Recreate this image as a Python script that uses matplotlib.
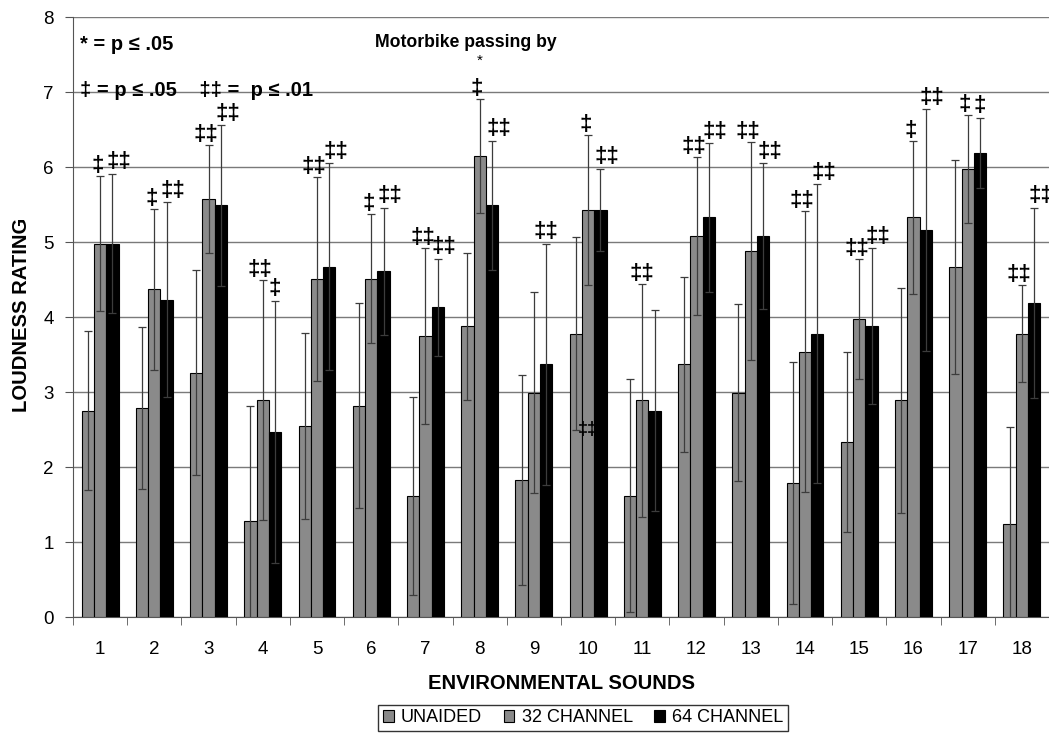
import matplotlib
matplotlib.use("Agg")
import matplotlib.pyplot as plt
import numpy as np

plt.rcParams["font.family"] = ["Liberation Sans", "DejaVu Sans"]

sounds = [str(i) for i in range(1, 19)]
unaided = [2.75, 2.79, 3.26, 1.28, 2.55, 2.82, 1.62, 3.88, 1.83,
           3.78, 1.62, 3.37, 2.99, 1.79, 2.34, 2.89, 4.67, 1.24]
unaided_err = [1.06, 1.08, 1.37, 1.53, 1.24, 1.37, 1.32, 0.98, 1.40,
               1.29, 1.55, 1.17, 1.18, 1.61, 1.20, 1.50, 1.43, 1.30]
ch32 = [4.98, 4.37, 5.57, 2.89, 4.51, 4.51, 3.75, 6.15, 2.99,
        5.43, 2.89, 5.08, 4.88, 3.54, 3.98, 5.33, 5.98, 3.78]
ch32_err = [0.90, 1.07, 0.72, 1.60, 1.36, 0.86, 1.17, 0.76, 1.34,
            1.00, 1.55, 1.05, 1.45, 1.87, 0.80, 1.02, 0.72, 0.65]
ch64 = [4.98, 4.23, 5.49, 2.47, 4.67, 4.61, 4.13, 5.49, 3.37,
        5.43, 2.75, 5.33, 5.08, 3.78, 3.88, 5.16, 6.19, 4.19]
ch64_err = [0.93, 1.30, 1.07, 1.75, 1.38, 0.85, 0.65, 0.86, 1.61,
            0.55, 1.34, 0.99, 0.97, 1.99, 1.04, 1.61, 0.47, 1.27]

# significance marks over the 32 and 64 channel bars
sig32 = ["‡", "‡", "‡‡", "‡‡", "‡‡", "‡", "‡‡", "‡", "",
         "‡", "‡‡", "‡‡", "‡‡", "‡‡", "‡‡", "‡", "‡", "‡‡"]
sig64 = ["‡‡", "‡‡", "‡‡", "‡", "‡‡", "‡‡", "‡‡", "‡‡", "‡‡",
         "‡‡", "", "‡‡", "‡‡", "‡‡", "‡‡", "‡‡", "‡", "‡‡"]
star32 = [8]

fig = plt.figure(figsize=(10.49, 7.34), dpi=100)
ax = fig.add_axes([0.0696, 0.1594, 0.9304, 0.8174])

x = np.arange(len(sounds))
w = 0.227
gray = "#8a8a8a"
ebar = dict(fmt="none", ecolor="#3c3c3c", elinewidth=0.9, capsize=3.2,
            capthick=0.9, zorder=4)

series = [(unaided, unaided_err, gray, "UNAIDED"),
          (ch32, ch32_err, gray, "32 CHANNEL"),
          (ch64, ch64_err, "black", "64 CHANNEL")]
for k, (vals, err, col, lab) in enumerate(series):
    pos = x + (k - 1) * w
    ax.bar(pos, vals, w, color=col, edgecolor="black", linewidth=0.8,
           label=lab, zorder=3)
    ax.errorbar(pos, vals, yerr=err, **ebar)

sym = dict(ha="center", va="bottom", fontsize=16, fontweight="bold",
           zorder=5)
for i in range(len(sounds)):
    # nudge the pair apart so neighbouring marks don't run together
    both = bool(sig32[i]) and bool(sig64[i])
    dx32 = -0.05 if both else 0.0
    dx64 = 0.12 if both and sig64[i] == "‡‡" else 0.0
    if sig32[i]:
        top = ch32[i] + ch32_err[i]
        ax.text(x[i] + dx32, top + 0.0, sig32[i], **sym)
        if i + 1 in star32:
            ax.text(x[i], top + 0.5, "*", ha="center", va="center",
                    fontsize=11, zorder=5)
    if sig64[i]:
        ax.text(x[i] + w + dx64, ch64[i] + ch64_err[i] + 0.02, sig64[i], **sym)

ax.text(x[9], 2.5, "‡‡", ha="center", va="center", fontsize=13,
        fontweight="bold", zorder=5)

ax.set_xlim(-0.5, len(sounds) - 0.5)
ax.set_ylim(0, 8)
ax.set_yticks(range(0, 9))
ax.set_xticks(x)
ax.set_xticklabels(sounds)
ax.set_xticks(np.arange(len(sounds) + 1) - 0.5, minor=True)
ax.tick_params(axis="x", which="major", length=0, pad=17, labelsize=13.5)
ax.tick_params(axis="x", which="minor", length=6, color="#555555")
ax.tick_params(axis="y", length=6, color="#555555", labelsize=13.5, pad=8)
ax.yaxis.grid(True, color="#7a7a7a", linewidth=1.0, zorder=0)
ax.set_axisbelow(True)
for s in ["top", "right"]:
    ax.spines[s].set_visible(False)
for s in ["left", "bottom"]:
    ax.spines[s].set_color("#555555")

ax.set_ylabel("LOUDNESS RATING", fontsize=14.6, fontweight="bold")
ax.yaxis.set_label_coords(-0.043, 0.503)
ax.set_xlabel("ENVIRONMENTAL SOUNDS", fontsize=14.6, fontweight="bold",
              labelpad=12)

ax.text(0.007, 0.955, "* = p ≤ .05", transform=ax.transAxes, fontsize=14.5,
        fontweight="bold", va="center")
ax.text(0.007, 0.877, "‡ = p ≤ .05    ‡‡ =  p ≤ .01", transform=ax.transAxes,
        fontsize=14.5, fontweight="bold", va="center")
ax.text(0.402, 0.958, "Motorbike passing by", transform=ax.transAxes,
        fontsize=12.7, fontweight="bold", ha="center", va="center")

fig.legend(loc="center", bbox_to_anchor=(0.556, 0.022), ncol=3,
           fontsize=13, frameon=True, fancybox=False, edgecolor="black",
           handlelength=0.6, handleheight=0.6, handletextpad=0.4,
           columnspacing=1.2, borderpad=0.25)

fig.savefig("out.png", dpi=100)
